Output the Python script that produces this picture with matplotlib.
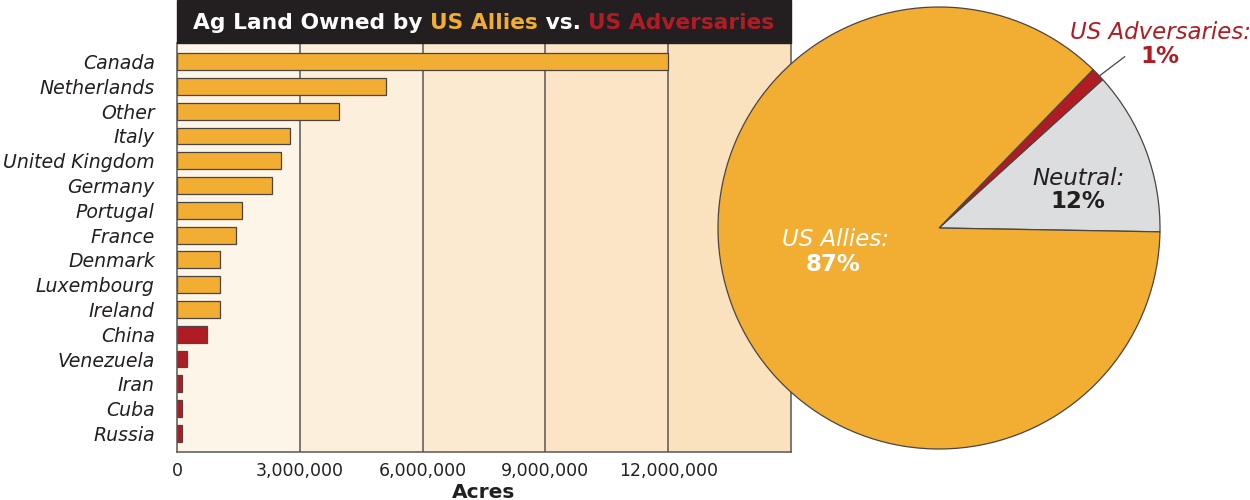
import matplotlib.pyplot as plt
from matplotlib.patches import Rectangle

plt.rcParams['font.family'] = ['DejaVu Sans']

# bar chart data (acres), top to bottom
countries = ['Canada', 'Netherlands', 'Other', 'Italy', 'United Kingdom', 'Germany',
             'Portugal', 'France', 'Denmark', 'Luxembourg', 'Ireland',
             'China', 'Venezuela', 'Iran', 'Cuba', 'Russia']
acres = [12000000, 5100000, 3950000, 2750000, 2550000, 2320000,
         1580000, 1440000, 1040000, 1040000, 1040000,
         730000, 240000, 110000, 110000, 110000]
group = ['ally'] * 11 + ['adversary'] * 5

x_ticks = [0, 3000000, 6000000, 9000000, 12000000]
x_tick_labels = ['0', '3,000,000', '6,000,000', '9,000,000', '12,000,000']
band_edges = [0, 3000000, 6000000, 9000000, 12000000, 15000000]

# pie data
pie_names = ['Neutral', 'US Adversaries', 'US Allies']
pie_shares = [12, 1, 87]

ORANGE = '#F2AE33'
RED = '#B11C24'
GRAY = '#DCDDDE'
DARK = '#231F20'
band_colors = ['#FDF5E8', '#FCEFDC', '#FCEAD0', '#FCE5C6', '#FBE2BE']
group_colors = {'ally': ORANGE, 'adversary': RED}

W, H = 1250, 500
fig = plt.figure(figsize=(12.5, 5), dpi=100)

# --- bar chart ---
ax = fig.add_axes([177 / W, 48 / H, 614 / W, 409 / H])
for i in range(len(band_edges) - 1):
    ax.axvspan(band_edges[i], band_edges[i + 1], color=band_colors[i], zorder=0, lw=0)
for t in x_ticks[1:]:
    ax.axvline(t, color='#5a5555', lw=1.1, zorder=1)

ypos = list(range(len(countries)))
ax.barh(ypos, acres, height=0.68, color=[group_colors[g] for g in group],
        edgecolor='#4a4444', linewidth=0.9, zorder=2)
ax.set_xlim(0, 15000000)
ax.set_ylim(len(countries) - 0.25, -0.75)
ax.set_yticks(ypos)
ax.set_yticklabels(countries, fontsize=13.6, style='italic', color='#231F20')
ax.set_xticks(x_ticks)
ax.set_xticklabels(x_tick_labels, fontsize=12.5, color='#231F20')
ax.tick_params(length=0, pad=7)
ax.tick_params(axis='y', pad=16)
ax.set_xlabel('Acres', fontsize=14.5, fontweight='bold', color='#231F20', labelpad=2)
for s in ['left', 'bottom', 'right']:
    ax.spines[s].set_color('#5a5555')
    ax.spines[s].set_linewidth(1.1)
ax.spines['top'].set_visible(False)

# --- title bar ---
fig.patches.append(Rectangle((177 / W, 457 / H), 614 / W, 43 / H,
                             transform=fig.transFigure, color=DARK, zorder=0))
TY = 477 / H
FS = 15.7
t1 = fig.text(193 / W, TY, 'Ag Land Owned by ', color='white',
              fontsize=FS, fontweight='bold', va='center')
t2 = fig.text(0, 0, 'US Allies', color=ORANGE, fontsize=FS, fontweight='bold', va='center')
t3 = fig.text(0, 0, ' vs. ', color='white', fontsize=FS, fontweight='bold', va='center')
t4 = fig.text(0, 0, 'US Adversaries', color=RED, fontsize=FS, fontweight='bold', va='center')
fig.canvas.draw()
r = fig.canvas.get_renderer()
x = t1.get_window_extent(r).x1
for t in (t2, t3, t4):
    t.set_position((x / W, TY))
    x = t.get_window_extent(r).x1

# --- pie ---
R = 221
pax = fig.add_axes([(939 - R) / W, (500 - 228 - R) / H, 2 * R / W, 2 * R / H])
pax.pie(pie_shares, colors=[GRAY, RED, ORANGE], startangle=-1, counterclock=True,
        wedgeprops=dict(edgecolor='#4a4444', linewidth=0.9))
pax.set_xlim(-1, 1)
pax.set_ylim(-1, 1)

PS = 16.5
pax.text(-0.47, -0.05, 'US Allies:', color='white', fontsize=PS, style='italic',
         ha='center', va='center')
pax.text(-0.48, -0.165, f'{pie_shares[2]}%', color='white', fontsize=PS,
         fontweight='bold', ha='center', va='center')
pax.text(0.63, 0.225, 'Neutral:', color=DARK, fontsize=PS, style='italic',
         ha='center', va='center')
pax.text(0.63, 0.12, f'{pie_shares[0]}%', color=DARK, fontsize=PS,
         fontweight='bold', ha='center', va='center')
pax.text(1.0, 0.885, 'US Adversaries:', color=RED, fontsize=PS, style='italic',
         ha='center', va='center', clip_on=False)
pax.text(1.0, 0.775, f'{pie_shares[1]}%', color=RED, fontsize=PS,
         fontweight='bold', ha='center', va='center', clip_on=False)
pax.plot([0.84, 0.715], [0.775, 0.68], color='#4a4444', lw=0.9, clip_on=False)

fig.savefig('out.png', dpi=100)
